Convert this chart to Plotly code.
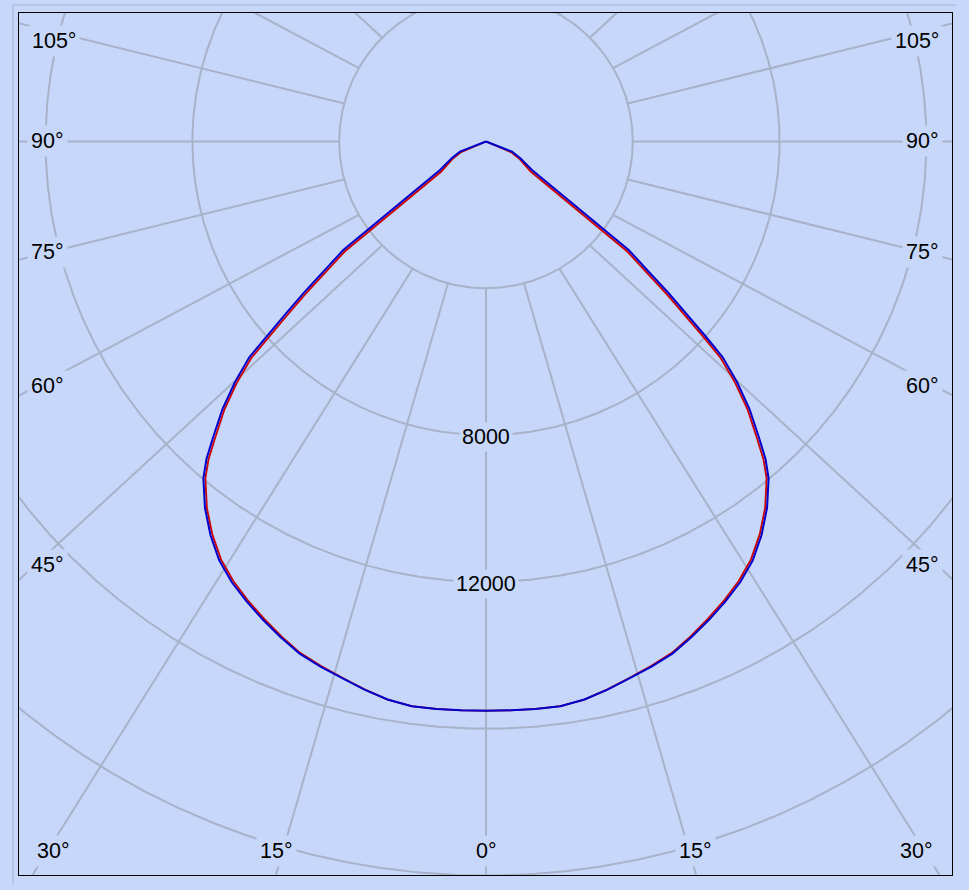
import numpy as np
import plotly.graph_objects as go

# ---------------- data ----------------
blue_angles = [0, 2.5, 5, 7.5, 10, 12.5, 15, 17.5, 20, 22.5, 25, 27.5, 30, 32.5, 35, 37.5,
               40, 41.36, 42.73, 44.57, 46.22, 47.66, 48.43, 49.25, 50.28, 51.33, 52.75,
               58.24, 63.9, 68.6, 90]
blue_cd = [15510, 15515, 15520, 15520, 15440, 15300, 15140, 15000, 14850, 14620, 14380,
           14130, 13860, 13530, 13090, 12580, 11980, 11526, 10951, 10232, 9472, 8720,
           7987, 7229, 6472, 5678, 4885, 1474, 1041, 761, 0]
red_angles = [0, 2.5, 5, 7.5, 10, 12.5, 15, 17.5, 19.98, 22.46, 24.95, 27.44, 29.9, 32.38,
              34.86, 37.29, 39.8, 41.11, 42.46, 44.28, 45.9, 47.3, 48.04, 48.82, 49.8, 50.77,
              52.1, 56.1, 62.4, 66.7, 90]
red_cd = [15510, 15515, 15520, 15520, 15440, 15292, 15127, 14980, 14825, 14589, 14341,
          14085, 13812, 13483, 13047, 12553, 11945, 11499, 10929, 10215, 9460, 8708,
          7981, 7221, 6463, 5670, 4880, 1467, 1036, 757, 0]

ring_values = [4000, 8000, 12000, 16000, 20000]
ring_label_values = [8000, 12000]
spoke_angles = [0, 15, 30, 45, 60, 75, 90, 105, 120, 135, 150, 165, 180]
angle_tick_labels = ["105°", "90°", "75°", "60°", "45°", "30°", "15°", "0°", "15°", "30°",
                     "45°", "60°", "75°", "90°", "105°"]

# ---------------- styles ----------------
BG = "#C6D7FA"
GRID = "#A8B2C8"
FONT = "Liberation Sans, Arial, sans-serif"
W, H = 969, 890
L, R, T, B = 19, 17, 13, 15          # plot frame in pixels
CX, CY = 486, 141.5                  # pole position in pixels
PX_PER_CD = 146.8 / 4000.0
SPOKE_STRETCH = 1.08

def px_to_x(px):
    return (px - CX) / PX_PER_CD

def py_to_y(py):
    return (CY - py) / PX_PER_CD

fig = go.Figure()

# rings
for rv in ring_values:
    t = np.linspace(0, 2 * np.pi, 1441)
    fig.add_trace(go.Scatter(x=rv * np.sin(t), y=rv * np.cos(t), mode="lines",
                             line=dict(color=GRID, width=2), hoverinfo="skip", showlegend=False))

# spokes (start at the innermost ring)
sx, sy = [], []
inner = ring_values[0]
far = 60000
for a in spoke_angles:
    for sgn in (-1, 1):
        th = np.radians(a)
        sx += [sgn * inner * np.sin(th), sgn * SPOKE_STRETCH * far * np.sin(th), None]
        sy += [-inner * np.cos(th), -far * np.cos(th), None]
fig.add_trace(go.Scatter(x=sx, y=sy, mode="lines", line=dict(color=GRID, width=2),
                         hoverinfo="skip", showlegend=False))

# curves (symmetric about 0°)
def curve(angles, values):
    th = np.radians(np.array([-a for a in angles[::-1]] + angles[1:], dtype=float))
    v = np.array(values[::-1] + values[1:], dtype=float)
    return v * np.sin(th), -v * np.cos(th)

xr, yr = curve(red_angles, red_cd)
fig.add_trace(go.Scatter(x=xr, y=yr, mode="lines", line=dict(color="#CC0000", width=1.8),
                         name="C0-C180", showlegend=False))
xb, yb = curve(blue_angles, blue_cd)
fig.add_trace(go.Scatter(x=xb, y=yb, mode="lines", line=dict(color="#0000CC", width=2),
                         name="C90-C270", showlegend=False))

annotations = []
for v in ring_label_values:
    annotations.append(dict(x=0, y=-v, xref="x", yref="y", text=str(v), showarrow=False,
                            font=dict(family=FONT, size=21.5, color="black"),
                            bgcolor=BG, borderpad=2, yshift=-2))

# angle labels around the frame (pixel centres)
label_pos = [(54, 41), (47.5, 141), (47.5, 252), (47.5, 385.5), (47.5, 565),
             (53, 851), (276, 851), (486, 851), (695.5, 851), (916.5, 851),
             (922.7, 565), (922.7, 385.5), (922.7, 252), (922.7, 141), (916.5, 41)]
pw, ph = W - L - R, H - T - B
for txt, (px, py) in zip(angle_tick_labels, label_pos):
    annotations.append(dict(x=(px - L) / pw, y=(H - B - py) / ph, xref="paper", yref="paper",
                            text=txt, showarrow=False, xanchor="center", yanchor="middle",
                            font=dict(family=FONT, size=21.5, color="black"),
                            bgcolor=BG, borderpad=3))

shapes = [
    dict(type="line", xref="paper", yref="paper", x0=(13 - L) / pw, x1=(13 - L) / pw,
         y0=(H - B - 885) / ph, y1=(H - B - 5) / ph, line=dict(color="#A5B3CF", width=1)),
    dict(type="line", xref="paper", yref="paper", x0=(13 - L) / pw, x1=(956 - L) / pw,
         y0=(H - B - 5) / ph, y1=(H - B - 5) / ph, line=dict(color="#A5B3CF", width=1)),
]

axis_common = dict(showgrid=False, zeroline=False, showticklabels=False, ticks="",
                   showline=True, mirror=True, linecolor="black", linewidth=1, fixedrange=True)
fig.update_layout(
    width=W, height=H,
    margin=dict(l=L, r=R, t=T, b=B),
    paper_bgcolor=BG, plot_bgcolor=BG,
    xaxis=dict(range=[px_to_x(L), px_to_x(W - R)], **axis_common),
    yaxis=dict(range=[py_to_y(H - B), py_to_y(T)], **axis_common),
    annotations=annotations, shapes=shapes, showlegend=False, hovermode=False,
)

fig.write_html(
    "out.html",
    config={"displayModeBar": False, "staticPlot": True},
    post_script="document.body.style.margin='0px';document.body.style.background='" + BG + "';",
)
